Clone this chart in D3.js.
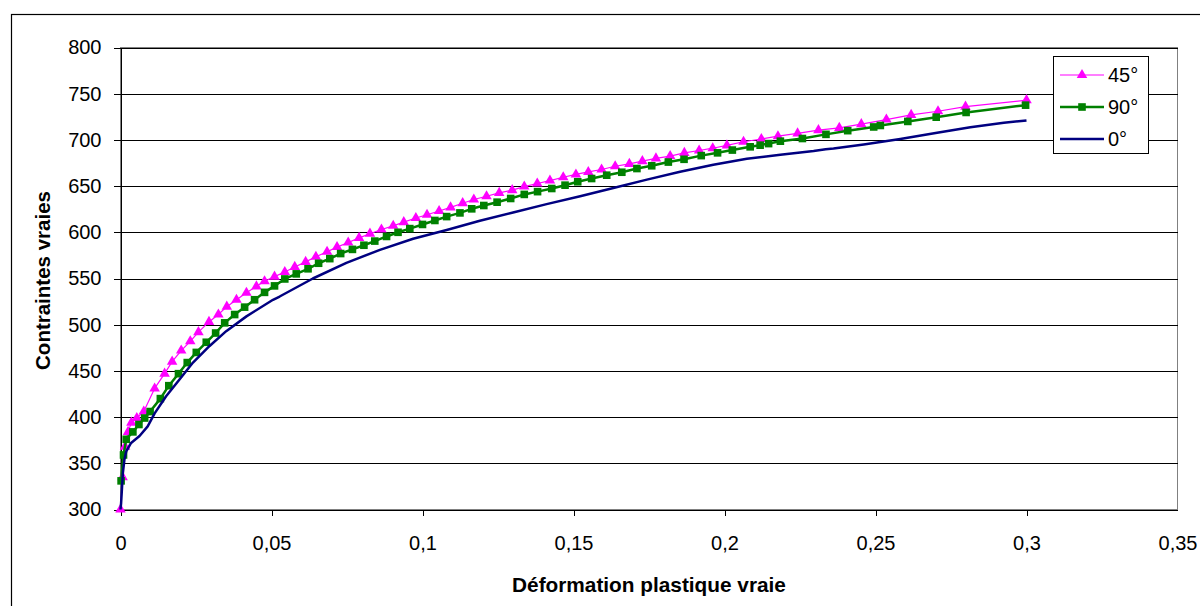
<!DOCTYPE html>
<html>
<head>
<meta charset="utf-8">
<script src="https://cdn.jsdelivr.net/npm/d3@7"></script>
<style>
  html, body { margin: 0; padding: 0; background: #fff; }
  svg { display: block; }
  text { font-family: "Liberation Sans", Arial, sans-serif; fill: #000; }
</style>
</head>
<body>
<svg id="chart" width="1200" height="606"></svg>
<script>
// ---- data ----
const seriesNames = ["45°", "90°", "0°"];

const x45 = [0,0.0007,0.0015,0.0025,0.0036,0.0054,0.0077,0.0113,0.0146,0.0171,0.0201,0.0231,0.0258,0.0293,0.0324,0.0352,0.0384,0.0417,0.045,0.0477,0.051,0.0544,0.0577,0.0613,0.0647,0.0684,0.0717,0.0754,0.079,0.0826,0.0864,0.0903,0.0938,0.0978,0.1015,0.1055,0.1093,0.1133,0.117,0.1212,0.1254,0.1297,0.1337,0.138,0.1422,0.1466,0.1508,0.1549,0.1593,0.1638,0.1685,0.1728,0.1773,0.182,0.1867,0.1916,0.1961,0.2008,0.2063,0.2122,0.2177,0.2242,0.2311,0.238,0.2453,0.2536,0.2618,0.2707,0.2798,0.3];
const y45 = [300,335,368,384,394,399,406,431,447,460,472,482,492,503,511,519.5,527,534.5,541.5,547,552,557,562.5,568,573.5,579,584,589,594,598.5,603,607,611,615.5,619,623,627,631.5,635.5,639,642.7,645.6,649.5,652.8,656,659.6,662.6,665.3,668,671.5,674,677,680,682.5,686,688.5,691,694,698,701,704,707,710.5,713,717,722,727,731,736,743];

const x90 = [0.0002,0.001,0.0019,0.0041,0.0061,0.008,0.0098,0.0132,0.016,0.0192,0.0221,0.0251,0.0284,0.0315,0.0345,0.0378,0.0411,0.0444,0.0477,0.051,0.0544,0.0582,0.0621,0.0656,0.0693,0.0729,0.0768,0.0806,0.0842,0.0881,0.0919,0.0958,0.1,0.1041,0.108,0.1124,0.1163,0.1203,0.1247,0.1292,0.1337,0.1381,0.1428,0.1472,0.1514,0.156,0.161,0.166,0.171,0.1759,0.1814,0.1866,0.1923,0.1977,0.2026,0.2085,0.2118,0.2146,0.2185,0.2258,0.2336,0.2408,0.2494,0.2516,0.2607,0.2701,0.28,0.2997];
const y90 = [331,359,376,384,392,399,406,420,434,447,459,470,481,491,502,511,519,527,535,542,549.5,555,560.5,566.5,571.5,577,581.5,586,590.5,595.5,600,604,608.5,612.8,617,621,625.4,629,632.6,636.6,641,644,647.4,651,654.7,658.2,661.8,665,669,672,676,679,683,686,689,692.5,694.3,696,698.6,701.5,706,710,714,715.6,720,724.6,729.7,737.6];

const x0 = [0,0.0002,0.0008,0.0013,0.0019,0.0035,0.0063,0.009,0.0113,0.0151,0.0196,0.024,0.0295,0.035,0.0417,0.0505,0.0527,0.0637,0.0748,0.0859,0.0969,0.108,0.119,0.13,0.1411,0.1522,0.1632,0.1743,0.1853,0.1963,0.2074,0.2185,0.2295,0.2335,0.2361,0.2461,0.2582,0.2704,0.2814,0.2925,0.3];
const y0 = [300,307,340,354,363,372,379.5,390,404,422.5,441,459,477,493,509,527,530.5,550,567,581,593,602.5,612.5,621.5,630.5,639,648,657,665.5,673,679.5,684,688,690,690.7,695,701,707.7,713.7,718.5,721];

const xTicks = [0,0.05,0.1,0.15,0.2,0.25,0.3,0.35];
const yTicks = [300,350,400,450,500,550,600,650,700,750,800];
const xTitle = "Déformation plastique vraie";
const yTitle = "Contraintes vraies";

// ---- drawing ----
const svg = d3.select("#chart");
const L = 120.5, R = 1177.5, T = 47.5, B = 509.5;
const x = d3.scaleLinear().domain([0, 0.35]).range([L, R]);
const y = d3.scaleLinear().domain([300, 800]).range([B, T]);
const fmt = d => d === 0 ? "0" : String(d).replace(".", ",");

// outer chart border
svg.append("rect").attr("x", 11.5).attr("y", 14.5).attr("width", 1200).attr("height", 620)
  .attr("fill", "#fff").attr("stroke", "#000").attr("stroke-width", 1.2);

// plot area border (gray)
svg.append("rect").attr("x", L).attr("y", T).attr("width", R - L).attr("height", B - T)
  .attr("fill", "#fff").attr("stroke", "#808080").attr("stroke-width", 1);

// gridlines
svg.append("g").selectAll("line").data(yTicks.filter(v => v > 300)).join("line")
  .attr("x1", L).attr("x2", R)
  .attr("y1", d => Math.round(y(d)) + 0.5).attr("y2", d => Math.round(y(d)) + 0.5)
  .attr("stroke", "#000").attr("stroke-width", 1).attr("shape-rendering", "crispEdges");

// axes
const gx = svg.append("g").attr("transform", `translate(0,${B})`)
  .call(d3.axisBottom(x).tickValues(xTicks).tickFormat(fmt).tickSize(6).tickPadding(20).tickSizeOuter(0));
const gy = svg.append("g").attr("transform", `translate(${L},0)`)
  .call(d3.axisLeft(y).tickValues(yTicks).tickFormat(d => d).tickSize(7).tickPadding(12).tickSizeOuter(0));
[gx, gy].forEach(g => {
  g.selectAll("text").attr("font-size", 20).attr("font-family", "Liberation Sans, Arial, sans-serif").attr("fill", "#000");
  g.selectAll("line").attr("stroke", "#000").attr("shape-rendering", "crispEdges");
  g.select(".domain").attr("stroke", "#000").attr("shape-rendering", "crispEdges");
});
gx.selectAll(".tick").filter(d => d === 0.35).select("line").remove();

// axis titles
svg.append("text").attr("x", (L + R) / 2).attr("y", 592).attr("text-anchor", "middle")
  .attr("font-size", 20.8).attr("font-weight", "bold").text(xTitle);
svg.append("text").attr("transform", `translate(50,${(T + B) / 2 + 2}) rotate(-90)`).attr("text-anchor", "middle")
  .attr("font-size", 20.5).attr("font-weight", "bold").text(yTitle);

// series
const toPts = (xs, ys) => xs.map((v, i) => [v, ys[i]]);
const series = [
  { name: seriesNames[0], pts: toPts(x45, y45), color: "#FF00FF", width: 1.2, marker: "tri" },
  { name: seriesNames[1], pts: toPts(x90, y90), color: "#008000", width: 2.5, marker: "sq" },
  { name: seriesNames[2], pts: toPts(x0, y0), color: "#000080", width: 2.5, marker: null }
];
const line = d3.line().x(d => x(d[0])).y(d => y(d[1]));
const triSym = d3.symbol().type(d3.symbolTriangle).size(48);
const sqSym = d3.symbol().type(d3.symbolSquare).size(58);

series.forEach(s => {
  const g = svg.append("g");
  g.append("path").datum(s.pts).attr("d", line).attr("fill", "none")
    .attr("stroke", s.color).attr("stroke-width", s.width).attr("stroke-linejoin", "round");
  if (s.marker) {
    g.selectAll("path.m").data(s.pts).join("path").attr("class", "m")
      .attr("transform", d => `translate(${x(d[0])},${y(d[1])})`)
      .attr("d", s.marker === "tri" ? triSym : sqSym)
      .attr("fill", s.color);
  }
});

// legend
const lg = svg.append("g");
lg.append("rect").attr("x", 1053.5).attr("y", 56.5).attr("width", 95).attr("height", 97)
  .attr("fill", "#fff").attr("stroke", "#000").attr("stroke-width", 1);
series.forEach((s, i) => {
  const cy = 75 + i * 32;
  lg.append("line").attr("x1", 1060).attr("x2", 1104).attr("y1", cy).attr("y2", cy)
    .attr("stroke", s.color).attr("stroke-width", s.width);
  if (s.marker) {
    lg.append("path").attr("transform", `translate(1082,${cy})`)
      .attr("d", s.marker === "tri" ? triSym : sqSym).attr("fill", s.color);
  }
  lg.append("text").attr("x", 1108).attr("y", cy).attr("dy", "0.36em")
    .attr("font-size", 20).text(s.name);
});
</script>
</body>
</html>
